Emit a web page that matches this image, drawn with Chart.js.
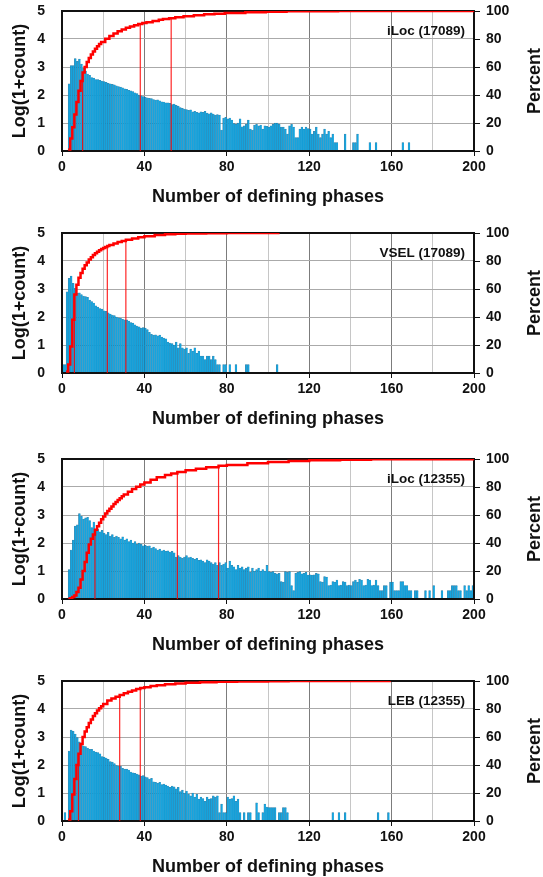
<!doctype html>
<html lang="en">
<head>
<meta charset="utf-8">
<style>
  html, body { margin: 0; padding: 0; background: #fff; overflow: hidden; }
  body { width: 543px; height: 877px; position: relative; }
  .panel { position: absolute; left: 0; width: 543px; height: 224px; }
</style>
</head>
<body>
<div class="panel" style="top:-1px"><canvas id="c0"></canvas></div>
<div class="panel" style="top:221px"><canvas id="c1"></canvas></div>
<div class="panel" style="top:447px"><canvas id="c2"></canvas></div>
<div class="panel" style="top:669px"><canvas id="c3"></canvas></div>

<script src="https://cdn.jsdelivr.net/npm/chart.js"></script>
<script>
// log10(1+count) per bin of 1 defining phase, bins start at 0
const iloc17089Log = [
  0, 0, 0, 2.4, 3.05, 3.05, 3.3, 3.2, 3.28, 3.1,
  2.95, 2.85, 2.75, 2.7, 2.62, 2.6, 2.55, 2.55, 2.52, 2.5,
  2.48, 2.45, 2.42, 2.4, 2.38, 2.36, 2.33, 2.3, 2.28, 2.26,
  2.22, 2.2, 2.17, 2.15, 2.12, 2.08, 2.05, 2.0, 1.97, 1.94,
  1.92, 1.9, 1.88, 1.87, 1.84, 1.82, 1.83, 1.79, 1.76, 1.75,
  1.72, 1.72, 1.7, 1.66, 1.68, 1.63, 1.6, 1.55, 1.52, 1.5,
  1.48, 1.45, 1.47, 1.4, 1.42, 1.38, 1.36, 1.4, 1.38, 1.42,
  1.35, 1.33, 1.36, 1.32, 1.28, 1.3, 1.28, 0.75, 1.18, 1.2,
  1.15, 1.18, 1.1, 0.98, 0.95, 1.0, 1.15, 0.86, 0.9, 0.95,
  1.1, 0.78, 0.75, 0.93, 0.95, 0.9, 0.93, 0.78, 0.9, 0.88,
  0.85, 0.9, 0.95, 1.0, 1.0, 0.95, 0.85, 0.85, 0.78, 0.6,
  0.9, 0.95, 0.85, 0.48, 0.48, 0.78, 0.85, 0.78, 0.85, 0.8,
  0.78, 0.6, 0.7, 0.85, 0.6, 0.48, 0.6, 0.78, 0.6, 0.7,
  0.48, 0.6, 0.3, 0.3, 0, 0, 0, 0.6, 0, 0,
  0, 0.3, 0.3, 0.6, 0, 0, 0, 0, 0, 0.3,
  0, 0, 0.3, 0, 0, 0, 0, 0, 0, 0,
  0, 0, 0, 0, 0, 0.3, 0, 0, 0.3
];
const vsel17089Log = [
  0.3, 0.3, 2.9, 3.38, 3.46, 3.2, 3.02, 2.85, 2.86, 2.8,
  2.75, 2.73, 2.7, 2.6, 2.55, 2.5, 2.4, 2.35, 2.3, 2.28,
  2.22, 2.2, 2.15, 2.1, 2.07, 2.05, 2.0, 1.97, 1.95, 1.92,
  1.9, 1.9, 1.85, 1.8, 1.78, 1.72, 1.68, 1.65, 1.6, 1.62,
  1.6, 1.55, 1.45, 1.38, 1.35, 1.36, 1.33, 1.35, 1.28, 1.25,
  1.22, 1.1, 1.07, 1.05, 1.0, 1.1, 0.9, 1.05, 0.9, 0.85,
  0.9, 0.7, 0.85, 0.78, 0.9, 0.7, 0.78, 0.6, 0.6, 0.48,
  0.6, 0.6, 0.48, 0.6, 0.48, 0.3, 0.3, 0, 0.3, 0.3,
  0, 0.3, 0, 0, 0.3, 0, 0, 0, 0, 0.3,
  0.3, 0, 0, 0, 0, 0, 0, 0, 0, 0,
  0, 0, 0, 0, 0.3
];
const iloc12355Log = [
  0, 0, 0, 1.05, 1.75, 2.1, 2.6, 2.65, 3.05, 2.95,
  2.85, 2.9, 2.92, 2.8, 2.55, 2.75, 2.45, 2.5, 2.4, 2.45,
  2.35, 2.3, 2.38, 2.25, 2.3, 2.2, 2.25, 2.2, 2.15, 2.22,
  2.1, 2.15, 2.05, 2.1, 2.0, 2.05, 1.95, 2.0, 1.95, 1.9,
  1.92, 1.88, 1.9, 1.82, 1.85, 1.8, 1.75, 1.78, 1.72, 1.75,
  1.7, 1.72, 1.68, 1.7, 1.65, 1.5, 1.55, 1.5, 1.45, 1.5,
  1.55, 1.48, 1.5, 1.45, 1.42, 1.45, 1.38, 1.4, 1.35, 1.3,
  1.4, 1.35, 1.3, 1.25, 1.3, 1.2, 1.3, 1.2, 1.25, 1.3,
  1.1, 1.35, 1.2, 1.15, 1.05, 1.2, 1.1, 1.15, 1.05, 1.1,
  1.15, 0.95, 1.1, 1.0, 1.05, 1.1, 1.0, 1.05, 1.0, 1.2,
  0.98, 0.95, 0.98, 0.92, 0.9, 0.92, 0.62, 0.6, 0.98, 0.95,
  0.98, 0.48, 0.3, 0.92, 0.95, 0.98, 0.9, 0.92, 0.95, 0.85,
  0.86, 0.85, 0.86, 0.92, 0.9, 0.62, 0.6, 0.8, 0.78, 0.48,
  0.5, 0.62, 0.6, 0.68, 0.48, 0.5, 0.62, 0.6, 0.48, 0.5,
  0.48, 0.62, 0.68, 0.6, 0.7, 0.68, 0.48, 0.5, 0.7, 0.68,
  0.48, 0.5, 0.68, 0.48, 0.3, 0.3, 0.48, 0.48, 0, 0.6,
  0.6, 0.3, 0.3, 0.3, 0.62, 0.62, 0.48, 0.48, 0.3, 0.3,
  0, 0.3, 0.3, 0, 0, 0, 0.3, 0, 0.3, 0,
  0.48, 0, 0, 0, 0.3, 0, 0, 0.3, 0.3, 0.48,
  0.48, 0.48, 0.3, 0.3, 0, 0.48, 0.3, 0.48, 0.3, 0.48
];
const leb12355Log = [
  0, 0.3, 0, 2.5, 3.25, 3.2, 3.1, 2.98, 2.83, 2.7,
  2.68, 2.66, 2.6, 2.56, 2.56, 2.5, 2.46, 2.44, 2.4, 2.3,
  2.28, 2.25, 2.2, 2.12, 2.1, 2.05, 1.98, 1.96, 1.95, 1.88,
  1.85, 1.85, 1.82, 1.75, 1.72, 1.7, 1.68, 1.65, 1.6, 1.62,
  1.58, 1.55, 1.5, 1.52, 1.4, 1.38, 1.35, 1.38, 1.3, 1.32,
  1.28, 1.25, 1.2, 1.25, 1.22, 1.15, 1.2, 1.05, 1.1, 1.0,
  1.07, 0.95, 0.9, 1.0, 0.85, 0.95, 0.78, 0.85, 0.8, 0.7,
  0.85, 0.78, 0.8, 0.9, 0.85, 0.9, 0.3, 0.6, 0.3, 0.3,
  0.85, 0.78, 0.8, 0.9, 0.7, 0.78, 0.3, 0, 0.3, 0,
  0.3, 0.3, 0, 0, 0.65, 0.3, 0, 0.3, 0.6, 0.5,
  0.48, 0.48, 0.48, 0.48, 0, 0.3, 0.3, 0.48, 0.48, 0.3,
  0, 0, 0, 0, 0, 0, 0, 0, 0, 0,
  0, 0, 0, 0, 0, 0, 0, 0, 0, 0,
  0, 0.3, 0, 0, 0.3, 0, 0, 0.3, 0, 0,
  0, 0, 0, 0, 0, 0, 0, 0, 0, 0,
  0, 0, 0, 0.3, 0, 0, 0, 0, 0.3
];

// cumulative percent curves, [phases, percent]
const iloc17089Cum = [[3,1],[4,9],[5,17],[6,26],[7,35],[8,43],[9,50],[10,56],[11,60],[12,63.5],
  [13,66.5],[14,69],[15,71],[16,73],[17,74.8],[18,76.4],[19,77.8],[21,80.2],[23,82.2],[25,84],
  [27,85.5],[29,86.8],[31,88],[33,89],[35,89.9],[37,90.7],[39,91.4],[41,92],[44,92.9],[47,93.7],
  [49,94.2],[52,94.9],[55,95.5],[59,96.2],[64,97],[69,97.6],[74,98.1],[79,98.5],[89,99.1],
  [99,99.5],[109,99.75],[119,99.88],[134,99.95],[169,100],[200,100]];
const vsel17089Cum = [[2,1],[3,6],[4,19],[5,38],[6,56],[7,63],[8,68],[9,71.5],[10,74.5],[11,77],
  [12,79],[13,81],[14,82.7],[15,84.2],[16,85.5],[17,86.6],[18,87.6],[19,88.5],[20,89.3],[21,90],
  [22,90.7],[23,91.4],[25,92.5],[27,93.5],[29,94.3],[31,95.1],[34,96.1],[37,97],[40,97.7],
  [45,98.5],[50,99.1],[55,99.5],[60,99.7],[70,99.9],[80,99.97],[105,100]];
const iloc12355Cum = [[3,0.1],[4,0.5],[5,1.5],[6,2.5],[7,5],[8,8],[9,14],[10,20],[11,26.5],[12,33],
  [13,39],[14,43],[15,46],[16,49.5],[17,52],[18,54.5],[19,57],[20,59],[21,61],[22,62.8],[23,64.5],
  [24,66],[25,67.8],[26,69.3],[27,70.7],[28,72],[29,73.4],[30,74.6],[32,76.6],[34,78.5],[36,80.2],
  [38,81.8],[40,83.3],[43,85.2],[46,86.9],[50,88.6],[53,89.7],[56,90.7],[60,91.9],[65,93.1],
  [70,94.1],[76,95.1],[80,95.7],[90,96.9],[100,97.8],[110,98.5],[120,99.1],[135,99.5],
  [150,99.75],[170,99.9],[200,100]];
const leb12355Cum = [[3,1],[4,7],[5,19],[6,30],[7,40],[8,48],[9,55],[10,60],[11,64],[12,67],
  [13,70],[14,72.5],[15,75],[16,77],[17,79],[18,80.5],[19,82],[20,83.5],[22,86],[24,87.5],
  [26,88.8],[28,90],[30,91.2],[32,92.3],[34,93.3],[36,94.2],[38,95],[40,95.6],[43,96.4],[46,97],
  [50,97.6],[55,98.3],[60,98.7],[67,99.1],[75,99.4],[85,99.7],[100,99.85],[110,99.93],[159,100]];

// median, 90th and 95th percentile positions
const iloc17089Marks = [10, 38, 53];
const vsel17089Marks = [6, 22, 31];
const iloc12355Marks = [16, 56, 76];
const leb12355Marks = [8, 28, 38];

const panelLabels = ['iLoc (17089)', 'VSEL (17089)', 'iLoc (12355)', 'LEB (12355)'];

Chart.defaults.font.family = '"Liberation Sans", Arial, Helvetica, sans-serif';
Chart.defaults.color = '#111';

const tickFont = { size: 14, weight: 'bold' };
const titleFont = { size: 18, weight: 'bold' };

function stepValue(cum, x) {
    let v = 0;
    cum.forEach(p => { if (p[0] <= x) v = p[1]; });
    return v;
}

// black frame after the bars, under the red lines; panel label, right ticks and right title
const framePlugin = {
    id: 'frame',
    afterDatasetDraw(chart, args) {
        if (args.meta.type !== 'bar') return;
        const a = chart.chartArea;
        const ctx = chart.ctx;
        ctx.save();
        ctx.strokeStyle = '#111';
        ctx.lineWidth = 2;
        ctx.strokeRect(a.left, a.top, a.right - a.left, a.bottom - a.top);
        ctx.restore();
    },
    afterDraw(chart, args, opts) {
        const a = chart.chartArea;
        const ctx = chart.ctx;
        const yR = chart.scales.yR;
        ctx.save();
        ctx.strokeStyle = '#111';
        ctx.lineWidth = 1;
        yR.ticks.forEach(t => {
            const py = Math.round(yR.getPixelForValue(t.value)) + 0.5;
            ctx.beginPath();
            ctx.moveTo(a.right, py);
            ctx.lineTo(a.right + 6, py);
            ctx.stroke();
        });
        ctx.fillStyle = '#111';
        ctx.textBaseline = 'middle';
        ctx.font = 'bold 13.5px "Liberation Sans", Arial, sans-serif';
        ctx.textAlign = 'right';
        ctx.fillText(opts.label, a.right - 9, a.top + 20);
        ctx.font = 'bold 18px "Liberation Sans", Arial, sans-serif';
        ctx.textAlign = 'center';
        ctx.translate(535, (a.top + a.bottom) / 2);
        ctx.rotate(-Math.PI / 2);
        ctx.fillText('Percent', 0, 0);
        ctx.restore();
    }
};

function plotPanel(id, logs, cum, marks, label) {
    const bars = [];
    logs.forEach((v, i) => { if (v > 0) bars.push({ x: i + 0.5, y: v }); });

    const lines = [];
    marks.forEach(m => {
        lines.push({ x: m, y: 0 }, { x: m, y: stepValue(cum, m) }, { x: m, y: null });
    });

    const curve = cum.map(p => ({ x: p[0], y: p[1] }));

    new Chart(document.getElementById(id), {
        type: 'bar',
        data: {
            datasets: [{
                type: 'bar',
                data: bars,
                yAxisID: 'y',
                backgroundColor: 'rgb(22,164,222)',
                borderColor: 'rgba(10,85,130,0.75)',
                borderWidth: { left: 0.5, top: 0.5, right: 0, bottom: 0 },
                barPercentage: 1,
                categoryPercentage: 1,
                grouped: false,
                order: 3
            }, {
                type: 'line',
                data: lines,
                yAxisID: 'yR',
                borderColor: 'rgba(255,0,0,0.85)',
                borderWidth: 1.2,
                pointRadius: 0,
                spanGaps: false,
                order: 2
            }, {
                type: 'line',
                data: curve,
                yAxisID: 'yR',
                borderColor: '#ff0000',
                borderWidth: 2.5,
                stepped: true,
                pointRadius: 0,
                order: 1
            }]
        },
        options: {
            responsive: true,
            maintainAspectRatio: false,
            animation: false,
            events: [],
            layout: { padding: { top: 12, left: 0, right: 0, bottom: 0 } },
            plugins: {
                legend: { display: false },
                tooltip: { enabled: false },
                frame: { label: label }
            },
            scales: {
                x: {
                    type: 'linear',
                    min: 0,
                    max: 200,
                    offset: false,
                    afterFit: s => { s.height = 72; },
                    border: { display: false },
                    grid: {
                        offset: false,
                        color: c => (c.tick && c.tick.value % 40 === 0) ? '#7c7c7c' : '#c6c6c6',
                        tickColor: c => (c.tick && c.tick.value % 40 === 0) ? '#111' : 'rgba(0,0,0,0)',
                        tickLength: 5
                    },
                    ticks: {
                        stepSize: 20,
                        autoSkip: false,
                        maxRotation: 0,
                        padding: 3,
                        font: tickFont,
                        callback: v => (v % 40 === 0 ? v : '')
                    },
                    title: {
                        display: true,
                        text: 'Number of defining phases',
                        font: titleFont,
                        padding: { top: 0, bottom: 15 }
                    }
                },
                y: {
                    position: 'left',
                    min: 0,
                    max: 5,
                    afterFit: s => { s.width = 62; },
                    border: { display: false },
                    grid: { color: '#aaaaaa', drawTicks: true, tickLength: 17, tickColor: 'rgba(0,0,0,0)' },
                    ticks: {
                        stepSize: 0.5,
                        padding: 0,
                        font: tickFont,
                        callback: v => (Number.isInteger(v) ? v : '')
                    },
                    title: {
                        display: true,
                        text: 'Log(1+count)',
                        font: titleFont,
                        padding: { top: 9, bottom: 0 }
                    }
                },
                yR: {
                    position: 'right',
                    min: 0,
                    max: 100,
                    afterFit: s => { s.width = 69; },
                    border: { display: false },
                    grid: { drawOnChartArea: false, drawTicks: true, tickLength: 12, tickColor: 'rgba(0,0,0,0)' },
                    ticks: { stepSize: 20, padding: 0, font: tickFont }
                }
            }
        },
        plugins: [framePlugin]
    });
}

plotPanel('c0', iloc17089Log, iloc17089Cum, iloc17089Marks, panelLabels[0]);
plotPanel('c1', vsel17089Log, vsel17089Cum, vsel17089Marks, panelLabels[1]);
plotPanel('c2', iloc12355Log, iloc12355Cum, iloc12355Marks, panelLabels[2]);
plotPanel('c3', leb12355Log, leb12355Cum, leb12355Marks, panelLabels[3]);
</script>
</body>
</html>
